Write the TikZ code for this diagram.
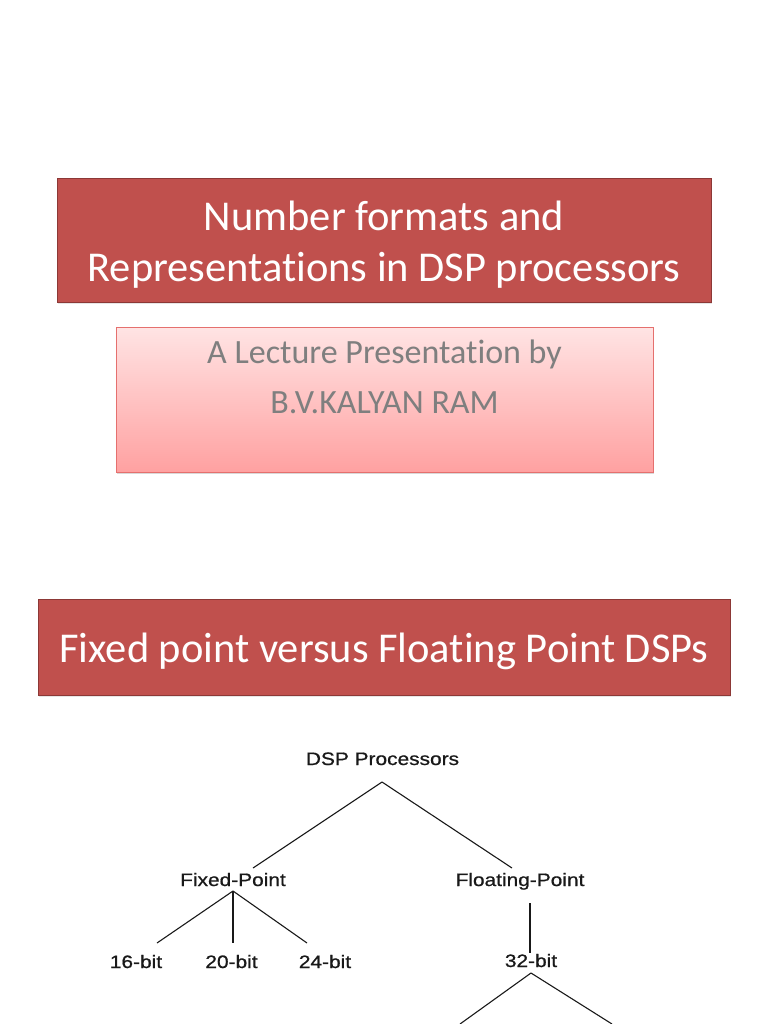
\documentclass[tikz,border=0pt]{standalone}
\usepackage{fontspec}
\setmainfont{Carlito}[Ligatures=NoCommon]
\newfontfamily\treefont{Liberation Sans}[FakeStretch=1.16, FakeBold=0.8]
\usetikzlibrary{shadows}
\definecolor{titlered}{HTML}{C0504D}
\definecolor{titleedge}{HTML}{8C3836}
\definecolor{subtop}{HTML}{FFE4E4}
\definecolor{subbot}{HTML}{FFA1A1}
\definecolor{subedge}{HTML}{E5706E}
\definecolor{subtext}{HTML}{7F7F7F}

\begin{document}
\begin{tikzpicture}[
  x=1pt, y=-1pt,
  every node/.style={inner sep=0pt},
  titlebox/.style={draw=titleedge, fill=titlered, line width=1pt,
    drop shadow={opacity=0.2, shadow xshift=1pt, shadow yshift=-2pt}},
  titletext/.style={text=white, align=center, font=\fontsize{42.5}{51}\selectfont},
  subbox/.style={draw=subedge, top color=subtop, bottom color=subbot, line width=1pt,
    drop shadow={opacity=0.3, shadow xshift=1pt, shadow yshift=-2pt}},
  subtext/.style={text=subtext, align=center, font=\fontsize{34}{50}\selectfont},
  label/.style={anchor=base, font=\treefont\fontsize{18}{20}\selectfont, text=black!90},
  edge/.style={draw, line width=1.1pt, black!90}]

  \useasboundingbox (0,0) rectangle (768,1024);

  %% ---------------- title slide ----------------
  \node[titlebox, minimum width=654, minimum height=123] (title) at (384,240.5) {};
  \node[titletext] (titleT) at (384,244.5)
    {Number formats and\\Representations in DSP processors};
  \node[subbox, minimum width=537, minimum height=145] (sub) at (384.5,399.5) {};
  \node[subtext] (subT) at (384.5,401.5)
    {A Lecture Presentation by\\B.V.KALYAN RAM\\\mbox{}};

  %% ---------------- second slide ----------------
  \node[titlebox, minimum width=692, minimum height=96] (fixflo) at (384,647) {};
  \node[titletext] (fixfloT) at (384,651) {Fixed point versus Floating Point DSPs};

  % labels of the tree
  \node[label] (dsp) at (382.5,765) {DSP Processors};
  \node[label] (fixed) at (233,886) {Fixed-Point};
  \node[label] (float) at (520,886) {Floating-Point};
  \node[label] (b16) at (136,968) {16-bit};
  \node[label] (b20) at (231.5,968) {20-bit};
  \node[label] (b24) at (325,968) {24-bit};
  \node[label] (b32) at (531,967) {32-bit};
  % ends of the branches
  \coordinate (dspJ) at (382,782);
  \coordinate (fixedT) at (253,868);
  \coordinate (floatT) at (512,868);
  \coordinate (fixedJ) at (233,891);
  \coordinate (t16) at (157,943);
  \coordinate (t20) at (233,943);
  \coordinate (t24) at (307,943);
  \coordinate (floatB) at (530,903);
  \coordinate (t32) at (530,953);
  \coordinate (b32J) at (531,973);
  \coordinate (cutL) at (460,1024);
  \coordinate (cutR) at (612,1024);
  % branches
  \draw[edge] (dspJ) -- (fixedT);
  \draw[edge] (dspJ) -- (floatT);
  \draw[edge] (fixedJ) -- (t16);
  \draw[edge] (fixedJ) -- (t20);
  \draw[edge] (fixedJ) -- (t24);
  \draw[edge] (floatB) -- (t32);
  % the tree goes on below the page
  \draw[edge] (b32J) -- (cutL);
  \draw[edge] (b32J) -- (cutR);

\end{tikzpicture}
\end{document}
